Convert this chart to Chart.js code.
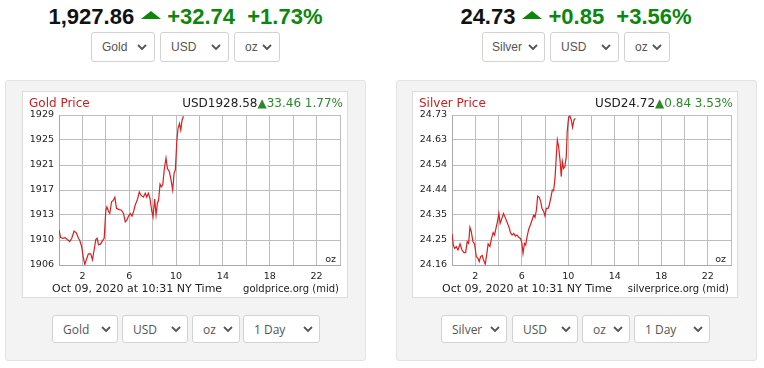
<!DOCTYPE html>
<html>
<head>
<meta charset="utf-8">
<script src="https://cdn.jsdelivr.net/npm/chart.js@4.4.0/dist/chart.umd.min.js"></script>
<style>
body { margin:0; width:764px; height:368px; background:#fff; position:relative; overflow:hidden; font-family:"Liberation Sans", Arial, sans-serif; }
.head { position:absolute; top:4px; line-height:26px; text-align:center; font-weight:bold; font-size:22px; white-space:nowrap; color:#111; }
.head .up { color:#0c870c; }
.tri { display:inline-block; width:0; height:0; border-left:10px solid transparent; border-right:10px solid transparent; border-bottom:8px solid #0c870c; margin:0 6px 0 7px; vertical-align:5px; }
.sel { position:absolute; box-sizing:border-box; background:#fff; border:1px solid #d2d2d2; border-radius:3px; color:#555; display:flex; align-items:center; padding-left:10px; }
.sel svg { position:absolute; top:50%; margin-top:-3px; }
.top { top:32px; height:30px; font-size:12px; font-family:"Liberation Sans", Arial, sans-serif; }
.bot { top:315px; height:28px; font-size:12px; font-family:"Open Sans", sans-serif; }
.panel { position:absolute; top:80px; width:361px; height:281px; background:#f3f3f3; border:1px solid #e3e3e3; border-radius:3px; box-sizing:border-box; }
.box { position:absolute; top:91px; width:326px; height:207px; background:#fff; border:1px solid #dcdcdc; box-sizing:border-box; }
.ct { position:absolute; white-space:nowrap; font-family:"DejaVu Sans", Verdana, sans-serif; color:#222; }
.ttl { top:96px; font-size:12px; line-height:14px; color:#cc1f1f; }
.rt { top:96px; font-size:12px; line-height:14px; }
.rt .g { color:#2a8a2a; }
.dt { top:282px; font-size:11px; line-height:13px; }
.src { top:283px; font-size:10px; line-height:12px; }
.oz { top:253px; font-size:9.5px; line-height:12px; }
canvas { position:absolute; }
</style>
</head>
<body>

<!-- gold side -->
<div class="head" style="left:5px;width:361px;">1,927.86<span class="tri"></span><span class="up">+32.74</span>&nbsp; <span class="up">+1.73%</span></div>
<div class="sel top" style="left:91px;width:64px;">Gold<svg width="10" height="7" style="right:7px"><path d="M1 1 L5 5 L9 1" fill="none" stroke="#555" stroke-width="1.8"/></svg></div>
<div class="sel top" style="left:160px;width:69px;">USD<svg width="10" height="7" style="right:7px"><path d="M1 1 L5 5 L9 1" fill="none" stroke="#555" stroke-width="1.8"/></svg></div>
<div class="sel top" style="left:234px;width:46px;">oz<svg width="10" height="7" style="right:7px"><path d="M1 1 L5 5 L9 1" fill="none" stroke="#555" stroke-width="1.8"/></svg></div>

<div class="panel" style="left:5px;"></div>
<div class="box" style="left:22px;"></div>
<canvas id="goldChart" width="324" height="205" style="left:23px;top:92px;"></canvas>
<div class="ct ttl" style="left:29px;">Gold Price</div>
<div class="ct rt" style="right:421px;">USD1928.58<span class="g">▲33.46 1.77%</span></div>
<div class="ct oz" style="right:428px;">oz</div>
<div class="ct dt" style="left:52px;">Oct 09, 2020 at 10:31 NY Time</div>
<div class="ct src" style="right:425px;">goldprice.org (mid)</div>

<div class="sel bot" style="left:52px;width:66px;">Gold<svg width="10" height="7" style="right:6px"><path d="M1 1 L5 5 L9 1" fill="none" stroke="#555" stroke-width="1.8"/></svg></div>
<div class="sel bot" style="left:122px;width:66px;">USD<svg width="10" height="7" style="right:6px"><path d="M1 1 L5 5 L9 1" fill="none" stroke="#555" stroke-width="1.8"/></svg></div>
<div class="sel bot" style="left:192px;width:48px;">oz<svg width="10" height="7" style="right:6px"><path d="M1 1 L5 5 L9 1" fill="none" stroke="#555" stroke-width="1.8"/></svg></div>
<div class="sel bot" style="left:243px;width:77px;">1 Day<svg width="10" height="7" style="right:6px"><path d="M1 1 L5 5 L9 1" fill="none" stroke="#555" stroke-width="1.8"/></svg></div>

<!-- silver side -->
<div class="head" style="left:396px;width:360px;">24.73<span class="tri"></span><span class="up">+0.85</span>&nbsp; <span class="up">+3.56%</span></div>
<div class="sel top" style="left:482px;width:63px;padding-left:9px;">Silver<svg width="10" height="7" style="right:6px"><path d="M1 1 L5 5 L9 1" fill="none" stroke="#555" stroke-width="1.8"/></svg></div>
<div class="sel top" style="left:550px;width:69px;">USD<svg width="10" height="7" style="right:7px"><path d="M1 1 L5 5 L9 1" fill="none" stroke="#555" stroke-width="1.8"/></svg></div>
<div class="sel top" style="left:624px;width:46px;">oz<svg width="10" height="7" style="right:7px"><path d="M1 1 L5 5 L9 1" fill="none" stroke="#555" stroke-width="1.8"/></svg></div>

<div class="panel" style="left:396px;"></div>
<div class="box" style="left:412px;"></div>
<canvas id="silverChart" width="324" height="205" style="left:413px;top:92px;"></canvas>
<div class="ct ttl" style="left:419px;">Silver Price</div>
<div class="ct rt" style="right:31px;">USD24.72<span class="g">▲0.84 3.53%</span></div>
<div class="ct oz" style="right:38px;">oz</div>
<div class="ct dt" style="left:442px;">Oct 09, 2020 at 10:31 NY Time</div>
<div class="ct src" style="right:35px;">silverprice.org (mid)</div>

<div class="sel bot" style="left:441px;width:66px;">Silver<svg width="10" height="7" style="right:6px"><path d="M1 1 L5 5 L9 1" fill="none" stroke="#555" stroke-width="1.8"/></svg></div>
<div class="sel bot" style="left:512px;width:66px;">USD<svg width="10" height="7" style="right:6px"><path d="M1 1 L5 5 L9 1" fill="none" stroke="#555" stroke-width="1.8"/></svg></div>
<div class="sel bot" style="left:582px;width:48px;">oz<svg width="10" height="7" style="right:6px"><path d="M1 1 L5 5 L9 1" fill="none" stroke="#555" stroke-width="1.8"/></svg></div>
<div class="sel bot" style="left:634px;width:76px;">1 Day<svg width="10" height="7" style="right:6px"><path d="M1 1 L5 5 L9 1" fill="none" stroke="#555" stroke-width="1.8"/></svg></div>

<script>
// hours since midnight (NY time) and prices
const gridHours = [0, 2, 4, 6, 8, 10, 12, 14, 16, 18, 20, 22, 24];
const hourLabels = [2, 6, 10, 14, 18, 22];

const goldYLabels = ['1906', '1910', '1913', '1917', '1921', '1925', '1929'];
const goldYMin = 1906, goldYMax = 1929;
const goldHours = [0, 0.14, 0.34, 0.51, 0.71, 0.91, 1.09, 1.29, 1.49, 1.66,
  1.77, 1.94, 2.06, 2.2, 2.37, 2.51, 2.71, 2.86, 3.0, 3.14,
  3.26, 3.37, 3.54, 3.71, 3.86, 4.0, 4.09, 4.23, 4.34, 4.49,
  4.63, 4.77, 4.91, 5.14, 5.34, 5.51, 5.66, 5.8, 5.94, 6.09,
  6.23, 6.37, 6.51, 6.71, 6.86, 7.0, 7.2, 7.37, 7.49, 7.63,
  7.77, 7.91, 8.03, 8.17, 8.29, 8.4, 8.51, 8.63, 8.74, 8.86,
  9.0, 9.14, 9.26, 9.43, 9.57, 9.71, 9.83, 9.94, 10.06, 10.17,
  10.29, 10.4, 10.51, 10.63];
const goldPrices = [1911.4, 1910.2, 1910.1, 1910.2, 1909.9, 1909.6, 1910.1, 1911.2, 1910.9, 1910.1,
  1909.8, 1908.8, 1907.3, 1906.1, 1907.0, 1907.7, 1907.7, 1906.8, 1908.3, 1909.9,
  1910.1, 1909.1, 1909.2, 1909.7, 1910.1, 1914.4, 1914.9, 1914.2, 1913.9, 1915.7,
  1915.9, 1916.4, 1914.7, 1914.5, 1914.4, 1913.9, 1912.6, 1912.9, 1913.5, 1913.9,
  1913.5, 1914.2, 1915.2, 1916.1, 1917.2, 1916.7, 1916.4, 1917.0, 1916.4, 1917.0,
  1916.2, 1914.4, 1913.4, 1916.1, 1913.7, 1915.4, 1916.0, 1918.4, 1918.0, 1918.3,
  1920.8, 1922.4, 1920.8, 1920.3, 1919.0, 1917.5, 1920.1, 1920.6, 1924.9, 1927.0,
  1927.7, 1926.7, 1928.2, 1928.8];

const silverYLabels = ['24.16', '24.25', '24.35', '24.44', '24.54', '24.63', '24.73'];
const silverYMin = 24.16, silverYMax = 24.73;
const silverHours = [0, 0.11, 0.23, 0.37, 0.51, 0.69, 0.86, 1.03, 1.17, 1.31,
  1.43, 1.54, 1.66, 1.8, 1.94, 2.09, 2.23, 2.34, 2.46, 2.6,
  2.71, 2.86, 3.0, 3.11, 3.26, 3.4, 3.54, 3.66, 3.8, 3.91,
  4.03, 4.14, 4.29, 4.43, 4.57, 4.71, 4.89, 5.03, 5.17, 5.31,
  5.46, 5.6, 5.74, 5.89, 6.0, 6.11, 6.23, 6.34, 6.46, 6.6,
  6.74, 6.89, 7.03, 7.14, 7.26, 7.37, 7.51, 7.63, 7.74, 7.89,
  8.0, 8.11, 8.26, 8.37, 8.51, 8.63, 8.74, 8.86, 8.97, 9.06,
  9.17, 9.29, 9.4, 9.49, 9.6, 9.71, 9.83, 9.91, 10.03, 10.14,
  10.26, 10.37, 10.49, 10.6];
const silverPrices = [24.278, 24.236, 24.223, 24.230, 24.217, 24.240, 24.217, 24.207, 24.207, 24.249,
  24.242, 24.303, 24.287, 24.249, 24.240, 24.192, 24.185, 24.173, 24.192, 24.196,
  24.179, 24.163, 24.204, 24.240, 24.230, 24.261, 24.283, 24.274, 24.303, 24.325,
  24.356, 24.318, 24.337, 24.356, 24.341, 24.325, 24.306, 24.283, 24.274, 24.280,
  24.270, 24.274, 24.265, 24.261, 24.245, 24.204, 24.242, 24.236, 24.268, 24.296,
  24.312, 24.331, 24.350, 24.341, 24.369, 24.422, 24.417, 24.401, 24.375, 24.363,
  24.346, 24.375, 24.375, 24.388, 24.417, 24.445, 24.442, 24.489, 24.572, 24.635,
  24.610, 24.559, 24.496, 24.553, 24.527, 24.534, 24.572, 24.667, 24.721, 24.726,
  24.711, 24.683, 24.711, 24.717];

const tickFont = { family: 'DejaVu Sans', size: 9.5 };

function drawChart(id, hours, prices, yMin, yMax, yLabels, yWidth, padRight) {
  new Chart(document.getElementById(id), {
    type: 'line',
    data: {
      datasets: [{
        data: hours.map((h, i) => ({ x: h, y: prices[i] })),
        borderColor: '#dc1e1e',
        borderWidth: 1.2,
        pointRadius: 0,
        tension: 0,
        fill: false
      }]
    },
    options: {
      responsive: false,
      animation: false,
      events: [],
      layout: { padding: { top: 23, right: padRight, bottom: 16, left: 0 } },
      plugins: { legend: { display: false }, tooltip: { enabled: false } },
      scales: {
        x: {
          type: 'linear', min: 0, max: 24,
          afterBuildTicks: s => { s.ticks = gridHours.map(v => ({ value: v })); },
          afterFit: s => { s.height = 16; },
          grid: { color: '#bdbdbd', drawTicks: false },
          border: { color: '#a9a9a9' },
          ticks: {
            autoSkip: false, maxRotation: 0, padding: 6, color: '#222', font: tickFont,
            callback: v => hourLabels.includes(v) ? String(v) : ''
          }
        },
        y: {
          min: yMin, max: yMax,
          afterBuildTicks: s => {
            s.ticks = yLabels.map((_, i) => ({ value: yMin + i * (yMax - yMin) / (yLabels.length - 1) }));
          },
          afterFit: s => { s.width = yWidth; },
          grid: { color: '#bdbdbd', drawTicks: false },
          border: { color: '#a9a9a9' },
          ticks: { padding: 5, color: '#222', font: tickFont, callback: (v, i) => yLabels[i] }
        }
      }
    }
  });
}

drawChart('goldChart', goldHours, goldPrices, goldYMin, goldYMax, goldYLabels, 36, 7);
drawChart('silverChart', silverHours, silverPrices, silverYMin, silverYMax, silverYLabels, 39, 5);
</script>
</body>
</html>
